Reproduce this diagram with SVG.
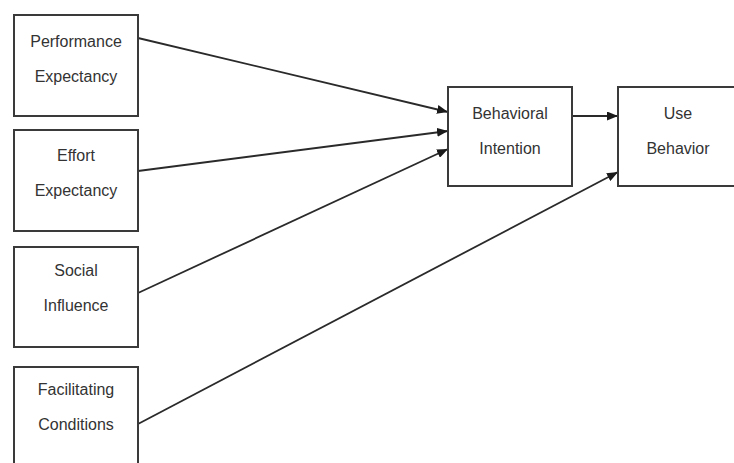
<svg xmlns="http://www.w3.org/2000/svg" width="734" height="463" viewBox="0 0 734 463">
<style>
.box{fill:#fff;stroke:#3a3a3a;stroke-width:2}
.t{font-family:"Liberation Sans",Arial,sans-serif;font-size:16px;fill:#333;text-anchor:middle}
.c{stroke:#2a2a2a;stroke-width:1.8;fill:none;marker-end:url(#ah)}
</style>
<defs>
<marker id="ah" markerWidth="11" markerHeight="9" refX="11" refY="4.5" orient="auto" markerUnits="userSpaceOnUse">
<path d="M0,0 L11,4.5 L0,9 Z" fill="#1a1a1a"/>
</marker>
</defs>
<rect width="734" height="463" fill="#fff"/>
<g id="connectors">
<line class="c" x1="138" y1="38" x2="448" y2="112"/>
<line class="c" x1="138" y1="171" x2="448" y2="131"/>
<line class="c" x1="138" y1="293" x2="448" y2="149"/>
<line class="c" x1="138" y1="424" x2="618" y2="172"/>
<line class="c" x1="572" y1="116" x2="618" y2="116"/>
</g>
<g id="pe"><rect class="box" x="14" y="15" width="124" height="101"/><text class="t" x="76" y="47">Performance</text><text class="t" x="76" y="82">Expectancy</text></g>
<g id="ee"><rect class="box" x="14" y="130" width="124" height="101"/><text class="t" x="76" y="161">Effort</text><text class="t" x="76" y="196">Expectancy</text></g>
<g id="si"><rect class="box" x="14" y="247" width="124" height="100"/><text class="t" x="76" y="276">Social</text><text class="t" x="76" y="311">Influence</text></g>
<g id="fc"><rect class="box" x="14" y="367" width="124" height="100"/><text class="t" x="76" y="395">Facilitating</text><text class="t" x="76" y="430">Conditions</text></g>
<g id="bi"><rect class="box" x="448" y="87" width="124" height="99"/><text class="t" x="510" y="119">Behavioral</text><text class="t" x="510" y="154">Intention</text></g>
<g id="ub"><rect class="box" x="618" y="87" width="124" height="99"/><text class="t" x="678" y="119">Use</text><text class="t" x="678" y="154">Behavior</text></g>
</svg>
